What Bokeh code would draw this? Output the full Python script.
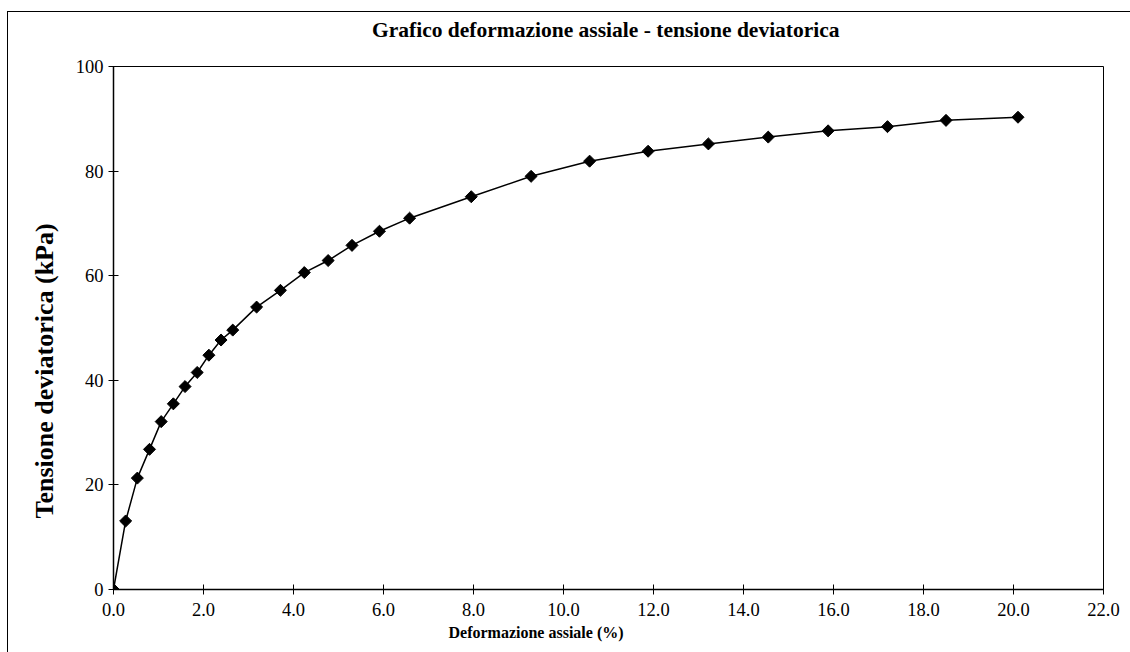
from bokeh.plotting import figure
from bokeh.models import FixedTicker, PrintfTickFormatter, Title
from bokeh.embed import file_html
from bokeh.resources import INLINE
import math

# data
deformazione = [0.0, 0.27, 0.53, 0.80, 1.06, 1.33, 1.59, 1.86, 2.12, 2.39, 2.65,
                3.18, 3.71, 4.24, 4.77, 5.30, 5.91, 6.58, 7.95, 9.28, 10.58,
                11.88, 13.22, 14.55, 15.88, 17.20, 18.50, 20.10]
tensione = [0.0, 13.1, 21.3, 26.8, 32.1, 35.5, 38.8, 41.5, 44.8, 47.7, 49.6,
            54.0, 57.2, 60.6, 62.9, 65.8, 68.5, 71.0, 75.1, 79.0, 81.9,
            83.8, 85.2, 86.5, 87.7, 88.5, 89.7, 90.3]
x_ticks = [0, 2, 4, 6, 8, 10, 12, 14, 16, 18, 20, 22]
y_ticks = [0, 20, 40, 60, 80, 100]

SERIF = "Liberation Serif"

p = figure(width=1123, height=641, output_backend="svg", toolbar_location=None,
           x_range=(0, 22), y_range=(0, 100), title=None,
           min_border_left=105, min_border_right=28,
           min_border_top=54, min_border_bottom=64)
p.margin = (11, 0, 0, 7)

# spacer (nearest the frame), then the chart title above it
p.add_layout(Title(text=" ", text_font=SERIF, text_font_size="14px", standoff=8), "above")
p.add_layout(Title(text="Grafico deformazione assiale - tensione  deviatorica",
                   text_font=SERIF, text_font_size="21.5px", text_font_style="bold",
                   text_color="black", align="center", standoff=0), "above")

p.styles = {"border-left": "1px solid black", "border-top": "1px solid black"}

p.xgrid.visible = False
p.ygrid.visible = False
p.outline_line_color = "black"
p.outline_line_width = 1
p.background_fill_color = "white"
p.border_fill_color = "white"

for ax in (p.xaxis[0], p.yaxis[0]):
    ax.axis_line_color = "black"
    ax.axis_line_width = 1.5
    ax.major_tick_line_color = "black"
    ax.major_tick_in = 5
    ax.major_tick_out = 5
    ax.minor_tick_line_color = None
    ax.major_label_text_font = SERIF
    ax.major_label_text_font_size = "18.5px"
    ax.major_label_text_color = "black"

p.xaxis.ticker = FixedTicker(ticks=x_ticks)
p.xaxis.formatter = PrintfTickFormatter(format="%.1f")
p.xaxis.major_label_standoff = 8
p.yaxis.ticker = FixedTicker(ticks=y_ticks)
p.yaxis.formatter = PrintfTickFormatter(format="%d")
p.yaxis.major_label_standoff = 5

ylabel = Title(text="Tensione deviatorica (kPa)", align="left", offset=71,
               text_font=SERIF, text_font_size="26px", text_font_style="bold",
               text_color="black", standoff=28)
p.add_layout(ylabel, "left")

xlabel = Title(text="Deformazione assiale (%)", align="left", offset=335,
               text_font=SERIF, text_font_size="16px", text_font_style="bold",
               text_color="black", standoff=6)
p.add_layout(xlabel, "below")

p.line(deformazione, tensione, line_color="black", line_width=1.5)
p.scatter(deformazione, tensione, marker="square", size=8.5, angle=math.pi / 4,
          fill_color="black", line_color="black")

open("out.html", "w").write(file_html(p, INLINE))
